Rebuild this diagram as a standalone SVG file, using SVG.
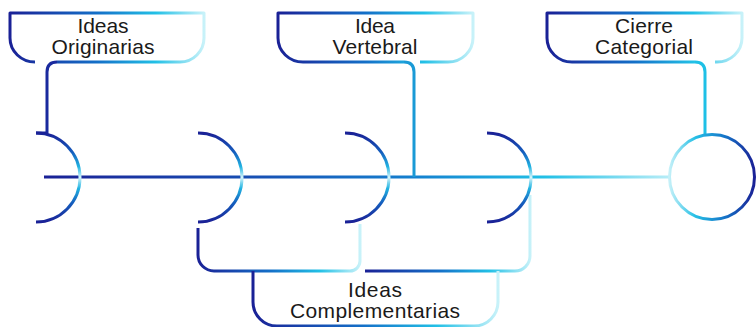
<svg xmlns="http://www.w3.org/2000/svg" width="756" height="327" viewBox="0 0 756 327">
<defs>
<style>
.s{fill:none;stroke-width:3;stroke-linecap:butt;stroke-linejoin:round}
.t{font-family:"Liberation Sans",Arial,sans-serif;font-size:21px;fill:#1a1a1a;text-anchor:middle}
</style>
<linearGradient id="gArc" x1="0" y1="0" x2="0" y2="1">
<stop offset="0" stop-color="#1a2196"/>
<stop offset="0.22" stop-color="#1560bf"/>
<stop offset="0.38" stop-color="#22b4e2"/>
<stop offset="0.5" stop-color="#d6f5fb"/>
<stop offset="0.62" stop-color="#22b4e2"/>
<stop offset="0.78" stop-color="#1560bf"/>
<stop offset="1" stop-color="#1a2196"/>
</linearGradient>
<linearGradient id="gMain" gradientUnits="userSpaceOnUse" x1="44" y1="0" x2="670" y2="0">
<stop offset="0" stop-color="#1a2196"/>
<stop offset="0.35" stop-color="#1752b5"/>
<stop offset="0.6" stop-color="#1482d0"/>
<stop offset="0.8" stop-color="#22c0e6"/>
<stop offset="1" stop-color="#b8edf7"/>
</linearGradient>
<linearGradient id="gCircle" x1="0" y1="0" x2="1" y2="0">
<stop offset="0" stop-color="#c4f0f8"/>
<stop offset="0.3" stop-color="#26c0e6"/>
<stop offset="0.65" stop-color="#1574c8"/>
<stop offset="1" stop-color="#1a2196"/>
</linearGradient>
<linearGradient id="gBox1" gradientUnits="userSpaceOnUse" x1="10" y1="0" x2="204" y2="0">
<stop offset="0" stop-color="#1a2196"/>
<stop offset="0.45" stop-color="#1470c8"/>
<stop offset="0.75" stop-color="#22c0e6"/>
<stop offset="1" stop-color="#c8f2f9"/>
</linearGradient>
<linearGradient id="gBox2" gradientUnits="userSpaceOnUse" x1="278" y1="0" x2="473" y2="0">
<stop offset="0" stop-color="#1a2196"/>
<stop offset="0.45" stop-color="#1470c8"/>
<stop offset="0.75" stop-color="#22c0e6"/>
<stop offset="1" stop-color="#c8f2f9"/>
</linearGradient>
<linearGradient id="gBox3" gradientUnits="userSpaceOnUse" x1="547" y1="0" x2="742" y2="0">
<stop offset="0" stop-color="#1a2196"/>
<stop offset="0.45" stop-color="#1470c8"/>
<stop offset="0.75" stop-color="#22c0e6"/>
<stop offset="1" stop-color="#c8f2f9"/>
</linearGradient>
<linearGradient id="gBox4" gradientUnits="userSpaceOnUse" x1="253" y1="0" x2="498" y2="0">
<stop offset="0" stop-color="#1a2196"/>
<stop offset="0.45" stop-color="#1470c8"/>
<stop offset="0.75" stop-color="#22c0e6"/>
<stop offset="1" stop-color="#c8f2f9"/>
</linearGradient>
<linearGradient id="gBrA" gradientUnits="userSpaceOnUse" x1="198" y1="0" x2="360" y2="0">
<stop offset="0" stop-color="#1a2196"/>
<stop offset="0.45" stop-color="#1470c8"/>
<stop offset="0.75" stop-color="#22c0e6"/>
<stop offset="1" stop-color="#c8f2f9"/>
</linearGradient>
<linearGradient id="gBrB" gradientUnits="userSpaceOnUse" x1="365" y1="0" x2="531" y2="0">
<stop offset="0" stop-color="#1a2196"/>
<stop offset="0.45" stop-color="#1470c8"/>
<stop offset="0.75" stop-color="#22c0e6"/>
<stop offset="1" stop-color="#c8f2f9"/>
</linearGradient>
</defs>
<rect width="756" height="327" fill="#ffffff"/>

<g id="connectors">
<path class="s" stroke="url(#gMain)" d="M44,177 H670"/>
<path class="s" stroke="#1a2a9e" d="M36,133 H47 V72 Q47,62 57,62"/>
<path class="s" stroke="#1a9ad6" d="M404,62 Q414,62 414,72 V177"/>
<path class="s" stroke="#1ec0e6" d="M695,62 Q705,62 705,72 V134"/>
<path class="s" stroke="url(#gBrA)" d="M198,228 V255 A16,16 0 0 0 214,271 H350 A10,10 0 0 0 360,261 V224"/>
<path class="s" stroke="url(#gBrB)" d="M365,271 H515 A15,15 0 0 0 530,256 V195"/>
</g>

<g id="spine">
<path id="arc1" class="s" stroke="url(#gArc)" d="M36,133 A44,44.5 0 0 1 36,222"/>
<path id="arc2" class="s" stroke="url(#gArc)" d="M198,133 A44,44.5 0 0 1 198,222"/>
<path id="arc3" class="s" stroke="url(#gArc)" d="M345,133 A44,44.5 0 0 1 345,222"/>
<path id="arc4" class="s" stroke="url(#gArc)" d="M487,133 A44,44.5 0 0 1 487,222"/>
<circle id="end-circle" class="s" stroke="url(#gCircle)" cx="712" cy="177" r="42.5"/>
</g>

<g id="node-ideas-originarias">
<path class="s" stroke="url(#gBox1)" d="M180,62 H57 M35,62 A25,24 0 0 1 10,38 V13 H204 V38 A24,24 0 0 1 180,62"/>
<text class="t" x="103" y="33" textLength="51">Ideas</text>
<text class="t" x="103" y="54" textLength="103">Originarias</text>
</g>

<g id="node-idea-vertebral">
<path class="s" stroke="url(#gBox2)" d="M404,62 H303 A25,24 0 0 1 278,38 V13 H473 V38 A25,24 0 0 1 448,62 H420"/>
<text class="t" x="375" y="33" textLength="40">Idea</text>
<text class="t" x="375" y="54" textLength="85">Vertebral</text>
</g>

<g id="node-cierre-categorial">
<path class="s" stroke="url(#gBox3)" d="M695,62 H572 A25,24 0 0 1 547,38 V13 H742 V38 A25,24 0 0 1 717,62 H715"/>
<text class="t" x="644" y="33" textLength="58">Cierre</text>
<text class="t" x="644" y="54" textLength="98">Categorial</text>
</g>

<g id="node-ideas-complementarias">
<path class="s" stroke="url(#gBox4)" d="M253,271 V302 A24,24 0 0 0 277,326 H474 A24,24 0 0 0 498,302 V271"/>
<text class="t" x="375" y="297" textLength="54">Ideas</text>
<text class="t" x="375" y="318" textLength="170">Complementarias</text>
</g>
</svg>
